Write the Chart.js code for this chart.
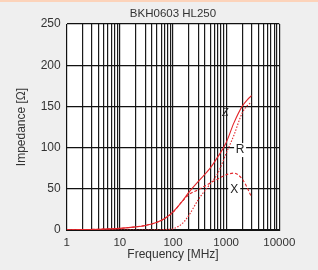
<!DOCTYPE html>
<html>
<head>
<meta charset="utf-8">
<script src="https://cdn.jsdelivr.net/npm/chart.js@4.4.0/dist/chart.umd.min.js"></script>
<style>
  html, body { margin: 0; padding: 0; background: #efefef; }
  #wrap { position: relative; width: 318px; height: 270px; }
  #strip { position: absolute; left: 0; top: 0; width: 318px; height: 2px; background: #fcd3ba; }
</style>
</head>
<body>
<div id="wrap">
  <canvas id="impChart"></canvas>
  <div id="strip"></div>
</div>
<script>
// values
const freqs = [1, 2, 5, 10, 20, 30, 50, 70, 100, 150, 200, 300, 500, 700, 1000, 1400, 2000, 2500, 3000]; // MHz
const zValues = [0.3, 0.5, 1.1, 2, 3.8, 5.5, 9.5, 14, 22, 35, 46, 59, 75, 89, 106, 130, 150, 158, 163];
const rValues = [0, 0, 0, 0, 0, 0, 0.2, 0.6, 1.5, 8, 18, 37, 56, 69, 93, 115, 142, 151, 155];
const xValues = [0.3, 0.5, 1.1, 2, 3.8, 5.5, 9.5, 14, 21.5, 35, 43, 49, 57, 62, 67, 69, 62, 51, 40];

const freqTickLabels = ['1', '10', '100', '1000', '10000'];
const impTicks = [0, 50, 100, 150, 200, 250];

// curve names placed next to the lines (frequency, impedance)
const curveLabels = [
    { text: 'Z', f: 950, v: 142, boxed: false },
    { text: 'R', f: 1830, v: 97, boxed: true },
    { text: 'X', f: 1420, v: 49.5, boxed: true }
];

const red = '#e3262b';
const toPoints = vals => freqs.map((f, i) => ({ x: f, y: vals[i] }));

// every 1..9 step of each decade gets a grid line
const gridValues = [];
for (let d = 1; d < 10000; d *= 10) {
    for (let k = 1; k < 10; k++) gridValues.push(k * d);
}
gridValues.push(10000);

const plotBackground = {
    id: 'plotBackground',
    beforeDraw(chart) {
        const { ctx, chartArea: a } = chart;
        ctx.save();
        ctx.fillStyle = '#ffffff';
        ctx.fillRect(a.left, a.top, a.right - a.left, a.bottom - a.top);
        ctx.restore();
    }
};

const curveNames = {
    id: 'curveNames',
    afterDatasetsDraw(chart) {
        const { ctx, scales } = chart;
        ctx.save();
        ctx.textAlign = 'center';
        ctx.textBaseline = 'middle';
        curveLabels.forEach(l => {
            const px = scales.x.getPixelForValue(l.f);
            const py = scales.y.getPixelForValue(l.v);
            if (l.boxed) {
                ctx.fillStyle = '#ffffff';
                ctx.fillRect(px - 6, py - 7, 12, 14);
                ctx.font = '12px "Liberation Sans", Arial, sans-serif';
            } else {
                ctx.font = 'italic 12px "Liberation Serif", serif';
            }
            ctx.fillStyle = '#222';
            ctx.fillText(l.text, px, py);
        });
        ctx.restore();
    }
};

const lineStyle = (label, vals, dash) => ({
    label,
    data: toPoints(vals),
    borderColor: red,
    borderWidth: 1.1,
    borderDash: dash,
    pointRadius: 0,
    cubicInterpolationMode: 'monotone',
    fill: false
});

new Chart(document.getElementById('impChart').getContext('2d'), {
    type: 'line',
    data: {
        datasets: [
            lineStyle('Z', zValues, []),
            lineStyle('R', rValues, [1.5, 1.5]),
            lineStyle('X', xValues, [3, 2])
        ]
    },
    options: {
        responsive: true,
        maintainAspectRatio: false,
        animation: false,
        layout: { padding: { left: 0, right: 38.7, top: 0, bottom: 0 } },
        plugins: {
            legend: { display: false },
            tooltip: { enabled: false },
            title: {
                display: true,
                fullSize: false,
                text: 'BKH0603 HL250',
                color: '#333',
                font: { family: '"Liberation Sans", Arial, sans-serif', size: 11.5, weight: 'normal', lineHeight: 1.2 },
                padding: { top: 6.5, bottom: 3.7 }
            }
        },
        scales: {
            x: {
                type: 'logarithmic',
                min: 1,
                max: 10000,
                afterBuildTicks: scale => { scale.ticks = gridValues.map(v => ({ value: v })); },
                afterFit: scale => { scale.height = 40; },
                border: { display: true, color: '#111', width: 1 },
                grid: { color: '#1a1a1a', lineWidth: 1.2, drawTicks: false },
                ticks: {
                    autoSkip: false,
                    maxRotation: 0,
                    padding: 6,
                    color: '#333',
                    font: { family: '"Liberation Sans", Arial, sans-serif', size: 11.5 },
                    callback: v => freqTickLabels.includes(String(v)) ? String(v) : ''
                },
                title: {
                    display: true,
                    text: 'Frequency [MHz]',
                    color: '#333',
                    font: { family: '"Liberation Sans", Arial, sans-serif', size: 12, lineHeight: 1.2 },
                    padding: { top: 0, bottom: 8.5 }
                }
            },
            y: {
                min: 0,
                max: 250,
                afterBuildTicks: scale => { scale.ticks = impTicks.map(v => ({ value: v })); },
                afterFit: scale => { scale.width = 66.7; },
                border: { display: true, color: '#111', width: 1 },
                grid: { color: '#111', lineWidth: 1.2, drawTicks: false },
                ticks: {
                    padding: 6,
                    color: '#333',
                    font: { family: '"Liberation Sans", Arial, sans-serif', size: 12 }
                },
                title: {
                    display: true,
                    text: 'Impedance [Ω]',
                    color: '#333',
                    font: { family: '"Liberation Sans", Arial, sans-serif', size: 12, lineHeight: 1.2 },
                    padding: { top: 14.8, bottom: 0 }
                }
            }
        }
    },
    plugins: [plotBackground, curveNames]
});
</script>
</body>
</html>
